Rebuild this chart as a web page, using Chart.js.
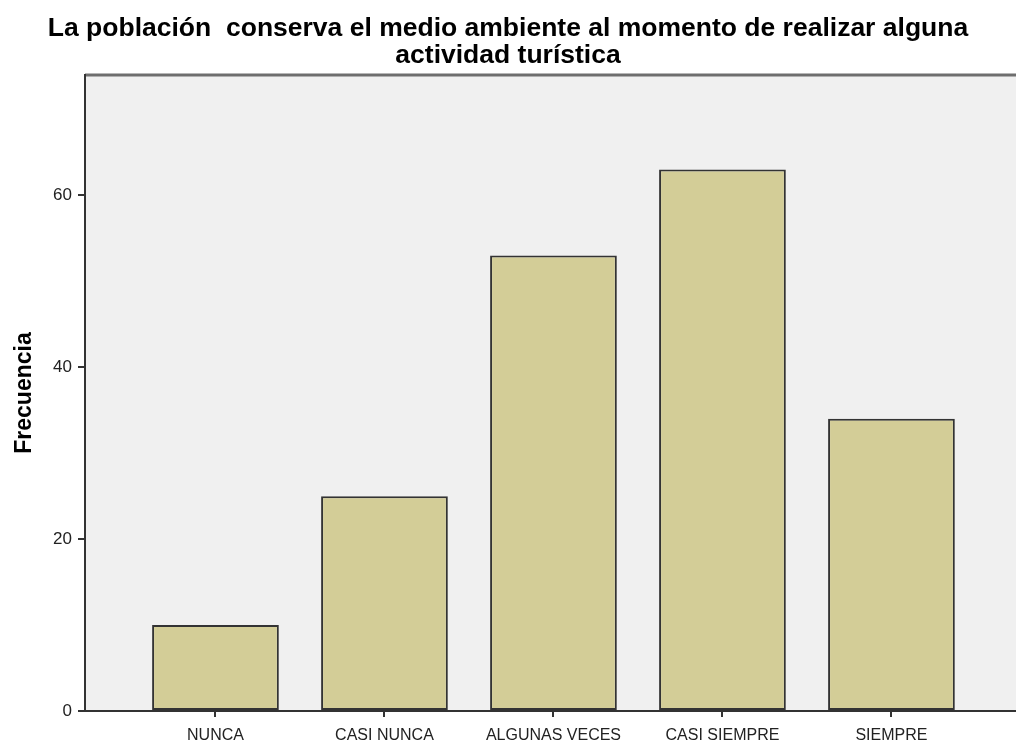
<!DOCTYPE html>
<html>
<head>
<meta charset="utf-8">
<title>Frecuencia</title>
<script src="https://cdn.jsdelivr.net/npm/chart.js@4.4.1/dist/chart.umd.min.js"></script>
<style>
  html, body { margin: 0; padding: 0; background: #fff; overflow: hidden; }
  #wrap { width: 1016px; height: 748px; }
</style>
</head>
<body>
<div id="wrap"><canvas id="chartBar"></canvas></div>
<script>
  var categories = ["NUNCA", "CASI NUNCA", "ALGUNAS VECES", "CASI SIEMPRE", "SIEMPRE"];
  var frecuencia = [10, 25, 53, 63, 34];
  var yTicks = [0, 20, 40, 60];
  var titleLines = ["La población  conserva el medio ambiente al momento de realizar alguna", "actividad turística"];

  // plot background + top border, like the SPSS frame
  var frame = {
    id: "frame",
    beforeDraw: function(chart) {
      var a = chart.chartArea, ctx = chart.ctx;
      ctx.save();
      ctx.fillStyle = "#f0f0f0";
      ctx.fillRect(a.left, a.top, a.right - a.left, a.bottom - a.top);
      ctx.strokeStyle = "#6e6e6e";
      ctx.lineWidth = 3;
      ctx.beginPath();
      ctx.moveTo(a.left, a.top);
      ctx.lineTo(a.right, a.top);
      ctx.stroke();
      ctx.restore();
    }
  };

  var chartBar = new Chart(document.getElementById("chartBar"), {
    type: "bar",
    data: {
      datasets: [{
        label: "Frecuencia",
        data: frecuencia.map(function(v, i) { return {x: i, y: v}; }),
        backgroundColor: "#d3cd97",
        borderColor: "#333333",
        borderWidth: 2,
        borderSkipped: false,
        barPercentage: 0.75,
        categoryPercentage: 1
      }]
    },
    options: {
      responsive: true,
      maintainAspectRatio: false,
      animation: false,
      layout: { padding: 0 },
      plugins: {
        legend: { display: false },
        tooltip: { enabled: false },
        title: {
          display: true,
          text: titleLines,
          color: "#000",
          font: { family: "'Liberation Sans', Arial, sans-serif", size: 26.5, weight: "bold", lineHeight: 1.02 },
          padding: { top: 15, bottom: 6 }
        }
      },
      scales: {
        x: {
          type: "linear",
          offset: false,
          min: -0.772,
          max: 4.737,
          afterBuildTicks: function(scale) {
            scale.ticks = categories.map(function(c, i) { return {value: i}; });
          },
          afterFit: function(scale) { scale.height = 37; },
          ticks: {
            autoSkip: false,
            maxRotation: 0,
            padding: 9,
            color: "#222",
            font: { family: "'Liberation Sans', Arial, sans-serif", size: 16 },
            callback: function(v) { return categories[v]; }
          },
          grid: { offset: false, drawOnChartArea: false, drawTicks: true, tickLength: 6, color: "#333", lineWidth: 2 },
          border: { display: true, color: "#333", width: 2 }
        },
        y: {
          min: 0,
          max: 74,
          afterBuildTicks: function(scale) {
            scale.ticks = yTicks.map(function(v) { return {value: v}; });
          },
          afterFit: function(scale) { scale.width = 85; },
          ticks: {
            padding: 6,
            color: "#222",
            font: { family: "'Liberation Sans', Arial, sans-serif", size: 17 }
          },
          title: {
            display: true,
            text: "Frecuencia",
            color: "#000",
            font: { family: "'Liberation Sans', Arial, sans-serif", size: 23, weight: "bold" },
            padding: { top: 11, bottom: 0 }
          },
          grid: { drawOnChartArea: false, drawTicks: true, tickLength: 7, color: "#333", lineWidth: 2 },
          border: { display: true, color: "#333", width: 2 }
        }
      }
    },
    plugins: [frame]
  });
</script>
</body>
</html>
